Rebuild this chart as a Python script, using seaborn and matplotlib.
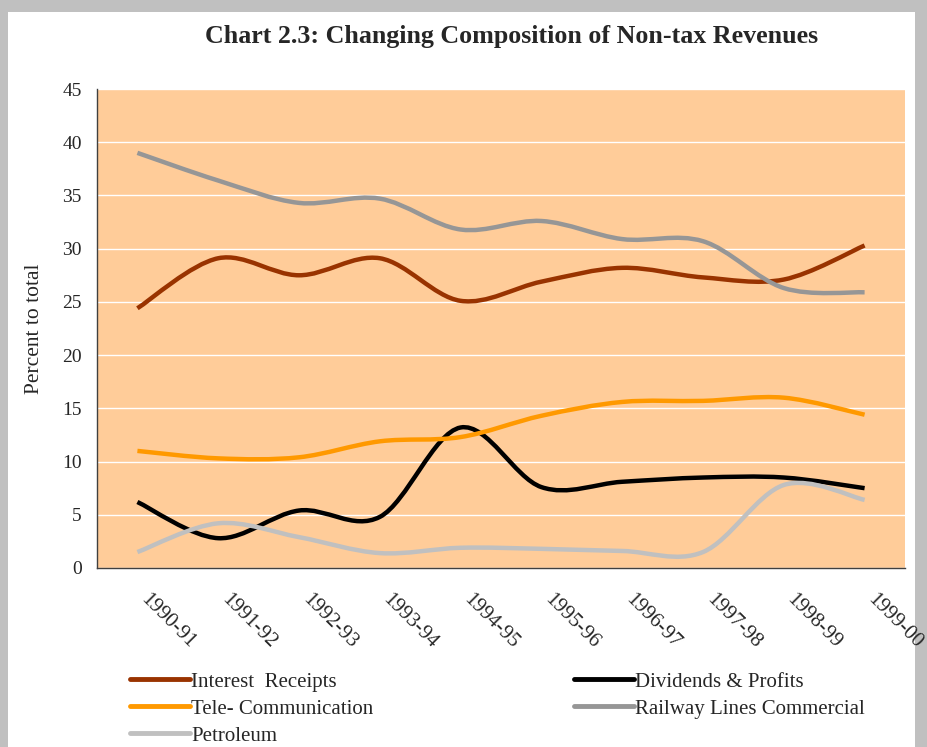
import numpy as np
import pandas as pd
import matplotlib
matplotlib.use("Agg")
import matplotlib.pyplot as plt
import matplotlib.transforms as mtransforms
from matplotlib.path import Path
from matplotlib.patches import PathPatch, Rectangle
from matplotlib.lines import Line2D
import seaborn as sns

# ---- data ----
years = ["1990-91", "1991-92", "1992-93", "1993-94", "1994-95",
         "1995-96", "1996-97", "1997-98", "1998-99", "1999-00"]
interest = [24.4, 29.1, 27.5, 29.1, 25.1, 26.9, 28.2, 27.3, 27.1, 30.3]
dividends = [6.2, 2.8, 5.4, 4.8, 13.2, 7.6, 8.1, 8.5, 8.5, 7.5]
telecom = [11.0, 10.3, 10.4, 11.9, 12.3, 14.3, 15.6, 15.7, 16.0, 14.4]
railway = [39.0, 36.4, 34.3, 34.7, 31.8, 32.6, 30.9, 30.7, 26.3, 25.9]
petroleum = [1.5, 4.2, 2.9, 1.4, 1.9, 1.8, 1.6, 1.5, 7.8, 6.4]

series_names = ["Interest  Receipts", "Dividends & Profits", "Tele- Communication",
                "Railway Lines Commercial", "Petroleum"]
series_vals = [interest, dividends, telecom, railway, petroleum]
series_colors = ["#993300", "#000000", "#FF9900", "#969696", "#C0C0C0"]
yticks = [0, 5, 10, 15, 20, 25, 30, 35, 40, 45]

W, H = 928, 747
fig = plt.figure(figsize=(W / 100, H / 100), dpi=100)
fig.patch.set_facecolor("#C0C0C0")
fig.patches.append(Rectangle((8 / W, 0), (915 - 8) / W, (H - 12) / H,
                             transform=fig.transFigure, facecolor="white",
                             edgecolor="none", zorder=-5))

sns.set_style("white")
plt.rcParams["font.family"] = ["Liberation Serif", "DejaVu Serif"]

ax = fig.add_axes([97 / W, (H - 568) / H, (905 - 97) / W, (568 - 89) / H])
ax.set_zorder(2)
ax.set_facecolor("#FFCC99")

pos = np.arange(len(years))


def bezier_path(xs, ys):
    pts = np.column_stack([xs, ys]).astype(float)
    n = len(pts)
    verts = [pts[0]]
    codes = [Path.MOVETO]
    for i in range(n - 1):
        p0 = pts[i - 1] if i > 0 else pts[i]
        p1 = pts[i]
        p2 = pts[i + 1]
        p3 = pts[i + 2] if i + 2 < n else pts[i + 1]
        c1 = p1 + (p2 - p0) / 6.0
        c2 = p2 - (p3 - p1) / 6.0
        verts += [c1, c2, p2]
        codes += [Path.CURVE4] * 3
    return Path(verts, codes)


handles = []
for name, vals, col in zip(series_names, series_vals, series_colors):
    df = pd.DataFrame({"pos": pos, "value": vals})
    n_before = len(ax.lines)
    sns.lineplot(data=df, x="pos", y="value", color=col, linewidth=3.2,
                 ax=ax, legend=False, sort=False)
    ln = ax.lines[n_before]
    ln.set_visible(False)
    patch = PathPatch(bezier_path(ln.get_xdata(), ln.get_ydata()),
                      facecolor="none", edgecolor=col, linewidth=3.2,
                      capstyle="butt", joinstyle="round", zorder=3)
    ax.add_patch(patch)
    handles.append(Line2D([], [], color=col, linewidth=3.5, label=name))

ax.set_xlim(-0.5, len(years) - 0.5)
ax.set_ylim(0, 45)
ax.set_yticks(yticks)
ax.set_yticklabels([str(v) for v in yticks], fontsize=14)
ax.yaxis.grid(True, color="white", linewidth=1.0)
ax.set_axisbelow(True)

ax.set_xticks(np.arange(-0.5, len(years), 1.0))
ax.set_xticklabels([])
ax.set_xticks(pos, minor=True)
ax.set_xticklabels(years, minor=True, fontsize=15, rotation=-45,
                   ha="left", va="center", rotation_mode="anchor")
ax.tick_params(axis="x", which="minor", length=0, pad=21)
ax.tick_params(axis="x", which="major", length=6, width=1, color="#404040", direction="out")
ax.tick_params(axis="y", which="major", length=7, width=1, color="#404040", direction="out", pad=4)
offset = mtransforms.ScaledTranslation(6 / 100, 0, fig.dpi_scale_trans)
for lbl in ax.get_xticklabels(minor=True):
    lbl.set_transform(lbl.get_transform() + offset)

for s in ["top", "right"]:
    ax.spines[s].set_visible(False)
for s in ["left", "bottom"]:
    ax.spines[s].set_color("#404040")
    ax.spines[s].set_linewidth(1.0)

ax.set_xlabel("")
ax.set_ylabel("Percent to total", fontsize=15.5, labelpad=13)

fig.text(512 / W, 1 - 36 / H, "Chart 2.3: Changing Composition of Non-tax Revenues",
         ha="center", va="center", fontsize=18.7, fontweight="bold")

order = [0, 2, 4, 1, 3]
leg = fig.legend([handles[i] for i in order], [series_names[i] for i in order],
                 ncol=2, loc="upper left", bbox_to_anchor=(130 / W, 1 - 672 / H),
                 frameon=False, fontsize=15, handlelength=2.9, handletextpad=0.05,
                 columnspacing=9.6, labelspacing=0.36, borderaxespad=0,
                 borderpad=0)

fig.savefig("out.png", dpi=100, facecolor=fig.get_facecolor())
